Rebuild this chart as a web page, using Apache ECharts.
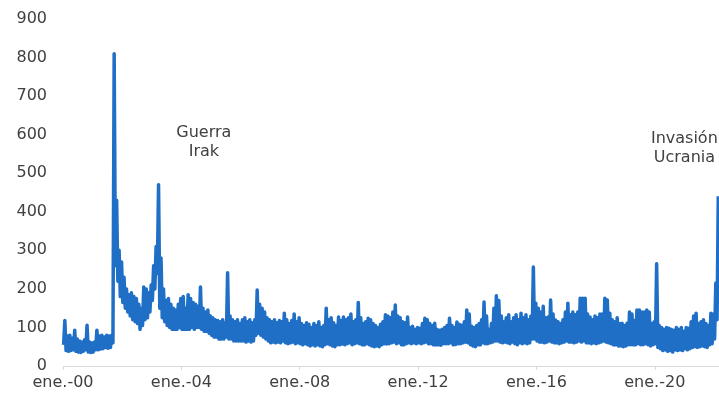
<!DOCTYPE html>
<html>
<head>
<meta charset="utf-8">
<title>Índice de riesgo geopolítico</title>
<script src="https://cdn.jsdelivr.net/npm/echarts@6/dist/echarts.min.js"></script>
<style>
  html, body { margin: 0; padding: 0; background: #ffffff; }
  #chart { width: 719px; height: 393px; }
</style>
</head>
<body>
<div id="chart"></div>
<script>
// Monthly range of the daily index (lowest and highest reading each month),
// January 2000 through February 2022.
const startYear = 2000;
const monthLow = [
  55, 40, 38, 40, 42, 38, 36, 35, 38, 42, 36, 35,          // 2000
  36, 42, 42, 44, 45, 48, 46, 48, 60, 260, 220, 180,       // 2001
  165, 150, 140, 130, 120, 115, 110, 95, 105, 120, 125, 140, // 2002
  170, 200, 240, 150, 125, 115, 105, 100, 95, 95, 95, 100, // 2003
  95, 95, 95, 95, 100, 95, 100, 100, 95, 90, 90, 85,       // 2004
  80, 75, 75, 70, 70, 70, 75, 70, 70, 65, 65, 65,          // 2005
  65, 65, 62, 65, 62, 65, 80, 85, 80, 75, 70, 65,          // 2006
  60, 62, 60, 62, 60, 65, 60, 58, 60, 62, 58, 60,          // 2007
  58, 55, 58, 55, 52, 55, 52, 55, 52, 50, 55, 58,          // 2008
  55, 52, 50, 55, 55, 57, 55, 58, 60, 55, 58, 60,          // 2009
  58, 55, 55, 58, 55, 52, 50, 52, 50, 55, 58, 57,          // 2010
  58, 60, 62, 58, 60, 55, 55, 58, 60, 58, 60, 58,          // 2011
  60, 58, 60, 62, 58, 58, 55, 55, 55, 54, 58, 58,          // 2012
  58, 60, 55, 56, 58, 58, 60, 62, 60, 55, 52, 50,          // 2013
  55, 55, 60, 58, 58, 60, 62, 65, 65, 62, 60, 62,          // 2014
  60, 58, 62, 58, 55, 60, 58, 60, 58, 60, 70, 70,          // 2015
  65, 62, 62, 60, 62, 65, 62, 60, 60, 58, 60, 62,          // 2016
  65, 62, 62, 60, 62, 65, 62, 65, 60, 60, 58, 60,          // 2017
  58, 60, 62, 65, 62, 60, 58, 55, 55, 52, 52, 50,          // 2018
  52, 55, 55, 55, 55, 58, 55, 55, 58, 55, 52, 55,          // 2019
  58, 48, 45, 40, 42, 38, 40, 36, 42, 40, 42, 40,          // 2020
  45, 42, 45, 48, 50, 48, 50, 52, 50, 48, 55, 58,          // 2021
  70, 120                                                  // 2022
];
const monthHigh = [
  118, 78, 80, 72, 93, 70, 65, 62, 68, 106, 62, 60,        // 2000
  62, 93, 78, 80, 75, 80, 78, 80, 810, 430, 300, 270,      // 2001
  230, 200, 185, 190, 180, 175, 160, 150, 205, 200, 190, 210, // 2002
  260, 310, 470, 280, 200, 170, 175, 160, 150, 145, 160, 175, // 2003
  180, 150, 185, 175, 165, 160, 155, 205, 150, 140, 145, 130, // 2004
  125, 120, 118, 115, 120, 112, 242, 130, 120, 115, 120, 110, // 2005
  120, 125, 115, 120, 112, 120, 197, 160, 150, 140, 125, 120, // 2006
  115, 120, 112, 118, 115, 137, 120, 110, 118, 135, 115, 125, // 2007
  110, 105, 112, 108, 100, 110, 105, 115, 100, 105, 150, 120, // 2008
  125, 112, 105, 127, 118, 127, 120, 125, 135, 115, 120, 165, // 2009
  125, 110, 115, 124, 120, 110, 105, 100, 108, 115, 133, 130, // 2010
  125, 140, 158, 130, 125, 115, 112, 127, 100, 103, 95, 100,  // 2011
  98, 110, 124, 120, 110, 105, 111, 95, 93, 95, 100, 105,     // 2012
  124, 105, 100, 114, 108, 106, 115, 145, 135, 103, 100, 105, // 2013
  110, 120, 166, 130, 95, 110, 150, 182, 170, 130, 115, 125,  // 2014
  133, 115, 125, 133, 120, 137, 125, 133, 120, 130, 257, 163, // 2015
  150, 140, 155, 125, 127, 171, 135, 119, 115, 110, 120, 140, // 2016
  163, 133, 140, 133, 140, 176, 176, 176, 135, 127, 120, 130, // 2017
  125, 135, 135, 176, 171, 137, 120, 115, 125, 110, 111, 105, // 2018
  111, 140, 135, 118, 145, 145, 140, 140, 145, 140, 110, 115, // 2019
  265, 106, 100, 95, 100, 98, 95, 93, 100, 95, 100, 90,       // 2020
  100, 98, 115, 130, 137, 110, 115, 120, 110, 105, 137, 135,  // 2021
  215, 440                                                    // 2022
];

// Axis ticks and their labels
const tickYears = [2000, 2004, 2008, 2012, 2016, 2020];
const tickLabels = ['ene.-00', 'ene.-04', 'ene.-08', 'ene.-12', 'ene.-16', 'ene.-20'];

// Event notes placed in data coordinates (decimal year, index level)
const noteTexts = ['Guerra\nIrak', 'Invasión\nUcrania'];
const noteYears = [2004.76, 2021.0];
const noteLevels = [580, 565];

// Each month contributes its low and its high, giving the dense daily band
const points = [];
monthLow.forEach((lo, i) => {
  const t = startYear + i / 12;
  points.push([t + 0.25 / 12, lo]);
  points.push([t + 0.75 / 12, monthHigh[i]]);
});

const textColor = '#404040';
const font = 'DejaVu Sans';

const chart = echarts.init(document.getElementById('chart'), null, { renderer: 'canvas' });
chart.setOption({
  animation: false,
  backgroundColor: '#ffffff',
  grid: { left: 63, right: 0, top: 19, bottom: 27, containLabel: false },
  xAxis: {
    type: 'value',
    min: 2000,
    max: 2022.17,
    interval: 4,
    axisLine: { show: true, lineStyle: { color: '#d9d9d9', width: 1 } },
    axisTick: { show: true, customValues: tickYears, length: 4, lineStyle: { color: '#d9d9d9' } },
    axisLabel: {
      customValues: tickYears,
      formatter: v => tickLabels[tickYears.indexOf(v)] || '',
      color: textColor, fontSize: 16, fontFamily: font, margin: 9
    },
    splitLine: { show: false }
  },
  yAxis: {
    type: 'value',
    min: 0,
    max: 900,
    interval: 100,
    axisLine: { show: false },
    axisTick: { show: false },
    splitLine: { show: false },
    axisLabel: { color: textColor, fontSize: 16, fontFamily: font, margin: 16 }
  },
  series: [{
    type: 'line',
    data: points,
    showSymbol: false,
    symbol: 'none',
    clip: true,
    lineStyle: { color: '#1f6fc6', width: 3.5, join: 'round' },
    markPoint: {
      symbol: 'circle',
      symbolSize: 0,
      silent: true,
      label: {
        show: true,
        position: 'inside',
        formatter: p => p.name,
        color: textColor, fontSize: 16, fontFamily: font, lineHeight: 19, align: 'center'
      },
      data: noteTexts.map((txt, i) => ({ name: txt, coord: [noteYears[i], noteLevels[i]] }))
    }
  }]
});
</script>
</body>
</html>
